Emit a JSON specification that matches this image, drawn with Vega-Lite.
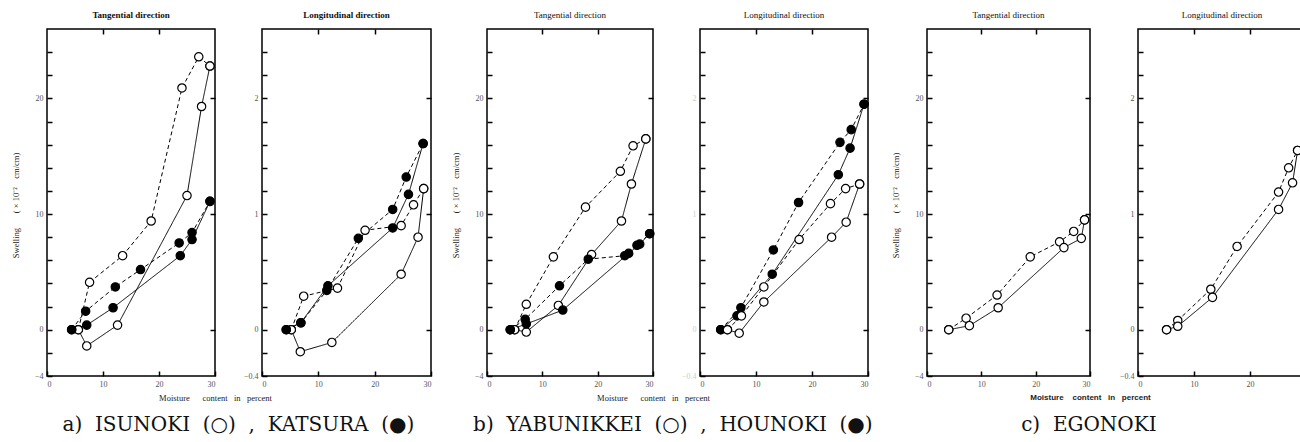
{
"$schema":"https://vega.github.io/schema/vega-lite/v6.json",
"background":"white",
"padding":{"left":10,"top":10,"right":0,"bottom":0},
"config":{
 "view":{"stroke":"black","strokeWidth":1.5},
 "axis":{"domain":false,"grid":false,"tickColor":"black","tickWidth":1.5,"tickSize":-5,"labelPadding":9,"labelFont":"Liberation Serif","labelFontSize":8,"labelColor":"#555","titleFont":"Liberation Serif","titleFontSize":8.5,"titleFontWeight":"normal","titleColor":"#222"},
 "title":{"font":"Liberation Serif","fontSize":9,"fontWeight":"normal","color":"#111","offset":8}
},
"data":{"values":[
{"p":"aT","sp":"o","c":"s","i":0,"mc":5.6,"sw":0},{"p":"aT","sp":"o","c":"s","i":1,"mc":7.1,"sw":-1.4},{"p":"aT","sp":"o","c":"s","i":2,"mc":12.6,"sw":0.4},{"p":"aT","sp":"o","c":"s","i":3,"mc":25.0,"sw":11.6},{"p":"aT","sp":"o","c":"s","i":4,"mc":27.6,"sw":19.3},{"p":"aT","sp":"o","c":"s","i":5,"mc":29.1,"sw":22.8},
{"p":"aT","sp":"o","c":"d","i":0,"mc":5.6,"sw":0},{"p":"aT","sp":"o","c":"d","i":1,"mc":7.6,"sw":4.1},{"p":"aT","sp":"o","c":"d","i":2,"mc":13.5,"sw":6.4},{"p":"aT","sp":"o","c":"d","i":3,"mc":18.6,"sw":9.4},{"p":"aT","sp":"o","c":"d","i":4,"mc":24.1,"sw":20.9},{"p":"aT","sp":"o","c":"d","i":5,"mc":27.1,"sw":23.6},{"p":"aT","sp":"o","c":"d","i":6,"mc":29.1,"sw":22.8},
{"p":"aT","sp":"f","c":"s","i":0,"mc":4.4,"sw":0},{"p":"aT","sp":"f","c":"s","i":1,"mc":7.1,"sw":0.4},{"p":"aT","sp":"f","c":"s","i":2,"mc":11.8,"sw":1.9},{"p":"aT","sp":"f","c":"s","i":3,"mc":23.8,"sw":6.4},{"p":"aT","sp":"f","c":"s","i":4,"mc":25.9,"sw":7.8},{"p":"aT","sp":"f","c":"s","i":5,"mc":29.1,"sw":11.1},
{"p":"aT","sp":"f","c":"d","i":0,"mc":4.4,"sw":0},{"p":"aT","sp":"f","c":"d","i":1,"mc":6.9,"sw":1.6},{"p":"aT","sp":"f","c":"d","i":2,"mc":12.2,"sw":3.7},{"p":"aT","sp":"f","c":"d","i":3,"mc":16.7,"sw":5.2},{"p":"aT","sp":"f","c":"d","i":4,"mc":23.6,"sw":7.5},{"p":"aT","sp":"f","c":"d","i":5,"mc":25.9,"sw":8.4},{"p":"aT","sp":"f","c":"d","i":6,"mc":29.1,"sw":11.1},

{"p":"aL","sp":"o","c":"s","i":0,"mc":5.2,"sw":0},{"p":"aL","sp":"o","c":"s","i":1,"mc":6.8,"sw":-0.19},{"p":"aL","sp":"o","c":"s","i":2,"mc":12.4,"sw":-0.11},{"p":"aL","sp":"o","c":"s","i":3,"mc":24.7,"sw":0.48},{"p":"aL","sp":"o","c":"s","i":4,"mc":27.7,"sw":0.8},{"p":"aL","sp":"o","c":"s","i":5,"mc":28.7,"sw":1.22},
{"p":"aL","sp":"o","c":"d","i":0,"mc":5.2,"sw":0},{"p":"aL","sp":"o","c":"d","i":1,"mc":7.4,"sw":0.29},{"p":"aL","sp":"o","c":"d","i":2,"mc":13.4,"sw":0.36},{"p":"aL","sp":"o","c":"d","i":3,"mc":18.3,"sw":0.86},{"p":"aL","sp":"o","c":"d","i":4,"mc":24.7,"sw":0.9},{"p":"aL","sp":"o","c":"d","i":5,"mc":26.9,"sw":1.08},{"p":"aL","sp":"o","c":"d","i":6,"mc":28.7,"sw":1.22},
{"p":"aL","sp":"f","c":"s","i":0,"mc":4.3,"sw":0},{"p":"aL","sp":"f","c":"s","i":1,"mc":6.9,"sw":0.06},{"p":"aL","sp":"f","c":"s","i":2,"mc":11.7,"sw":0.38},{"p":"aL","sp":"f","c":"s","i":3,"mc":23.2,"sw":0.88},{"p":"aL","sp":"f","c":"s","i":4,"mc":26.0,"sw":1.17},{"p":"aL","sp":"f","c":"s","i":5,"mc":28.6,"sw":1.61},
{"p":"aL","sp":"f","c":"d","i":0,"mc":4.3,"sw":0},{"p":"aL","sp":"f","c":"d","i":1,"mc":6.9,"sw":0.06},{"p":"aL","sp":"f","c":"d","i":2,"mc":11.5,"sw":0.34},{"p":"aL","sp":"f","c":"d","i":3,"mc":17.1,"sw":0.79},{"p":"aL","sp":"f","c":"d","i":4,"mc":23.2,"sw":1.04},{"p":"aL","sp":"f","c":"d","i":5,"mc":25.6,"sw":1.32},{"p":"aL","sp":"f","c":"d","i":6,"mc":28.6,"sw":1.61},

{"p":"bT","sp":"o","c":"d","i":0,"mc":5.0,"sw":0},{"p":"bT","sp":"o","c":"d","i":1,"mc":7.1,"sw":2.2},{"p":"bT","sp":"o","c":"d","i":2,"mc":12.0,"sw":6.3},{"p":"bT","sp":"o","c":"d","i":3,"mc":17.8,"sw":10.6},{"p":"bT","sp":"o","c":"d","i":4,"mc":24.1,"sw":13.7},{"p":"bT","sp":"o","c":"d","i":5,"mc":26.4,"sw":15.9},{"p":"bT","sp":"o","c":"d","i":6,"mc":28.7,"sw":16.5},
{"p":"bT","sp":"o","c":"s","i":0,"mc":5.0,"sw":0},{"p":"bT","sp":"o","c":"s","i":1,"mc":7.1,"sw":-0.2},{"p":"bT","sp":"o","c":"s","i":2,"mc":12.9,"sw":2.1},{"p":"bT","sp":"o","c":"s","i":3,"mc":18.9,"sw":6.5},{"p":"bT","sp":"o","c":"s","i":4,"mc":24.3,"sw":9.4},{"p":"bT","sp":"o","c":"s","i":5,"mc":26.1,"sw":12.6},{"p":"bT","sp":"o","c":"s","i":6,"mc":28.7,"sw":16.5},
{"p":"bT","sp":"f","c":"d","i":0,"mc":4.2,"sw":0},{"p":"bT","sp":"f","c":"d","i":1,"mc":6.9,"sw":0.9},{"p":"bT","sp":"f","c":"d","i":2,"mc":13.1,"sw":3.8},{"p":"bT","sp":"f","c":"d","i":3,"mc":18.3,"sw":6.1},{"p":"bT","sp":"f","c":"d","i":4,"mc":24.9,"sw":6.4},{"p":"bT","sp":"f","c":"d","i":5,"mc":27.1,"sw":7.3},{"p":"bT","sp":"f","c":"d","i":6,"mc":29.4,"sw":8.3},
{"p":"bT","sp":"f","c":"s","i":0,"mc":4.2,"sw":0},{"p":"bT","sp":"f","c":"s","i":1,"mc":7.1,"sw":0.5},{"p":"bT","sp":"f","c":"s","i":2,"mc":13.7,"sw":1.7},{"p":"bT","sp":"f","c":"s","i":3,"mc":25.6,"sw":6.6},{"p":"bT","sp":"f","c":"s","i":4,"mc":27.6,"sw":7.4},{"p":"bT","sp":"f","c":"s","i":5,"mc":29.4,"sw":8.3},

{"p":"bL","sp":"f","c":"d","i":0,"mc":3.7,"sw":0},{"p":"bL","sp":"f","c":"d","i":1,"mc":7.3,"sw":0.19},{"p":"bL","sp":"f","c":"d","i":2,"mc":13.1,"sw":0.69},{"p":"bL","sp":"f","c":"d","i":3,"mc":17.6,"sw":1.1},{"p":"bL","sp":"f","c":"d","i":4,"mc":25.0,"sw":1.62},{"p":"bL","sp":"f","c":"d","i":5,"mc":27.0,"sw":1.73},{"p":"bL","sp":"f","c":"d","i":6,"mc":29.3,"sw":1.95},
{"p":"bL","sp":"f","c":"s","i":0,"mc":3.7,"sw":0},{"p":"bL","sp":"f","c":"s","i":1,"mc":6.6,"sw":0.12},{"p":"bL","sp":"f","c":"s","i":2,"mc":12.9,"sw":0.48},{"p":"bL","sp":"f","c":"s","i":3,"mc":24.7,"sw":1.34},{"p":"bL","sp":"f","c":"s","i":4,"mc":26.8,"sw":1.57},{"p":"bL","sp":"f","c":"s","i":5,"mc":29.3,"sw":1.95},
{"p":"bL","sp":"o","c":"d","i":0,"mc":4.9,"sw":0},{"p":"bL","sp":"o","c":"d","i":1,"mc":7.4,"sw":0.12},{"p":"bL","sp":"o","c":"d","i":2,"mc":11.4,"sw":0.37},{"p":"bL","sp":"o","c":"d","i":3,"mc":17.7,"sw":0.78},{"p":"bL","sp":"o","c":"d","i":4,"mc":23.3,"sw":1.09},{"p":"bL","sp":"o","c":"d","i":5,"mc":26.0,"sw":1.22},{"p":"bL","sp":"o","c":"d","i":6,"mc":28.5,"sw":1.26},
{"p":"bL","sp":"o","c":"s","i":0,"mc":4.9,"sw":0},{"p":"bL","sp":"o","c":"s","i":1,"mc":7.0,"sw":-0.03},{"p":"bL","sp":"o","c":"s","i":2,"mc":11.4,"sw":0.24},{"p":"bL","sp":"o","c":"s","i":3,"mc":23.5,"sw":0.8},{"p":"bL","sp":"o","c":"s","i":4,"mc":26.1,"sw":0.93},{"p":"bL","sp":"o","c":"s","i":5,"mc":28.5,"sw":1.26},

{"p":"cT","sp":"o","c":"d","i":0,"mc":4.0,"sw":0},{"p":"cT","sp":"o","c":"d","i":1,"mc":7.2,"sw":1.0},{"p":"cT","sp":"o","c":"d","i":2,"mc":12.9,"sw":3.0},{"p":"cT","sp":"o","c":"d","i":3,"mc":19.0,"sw":6.3},{"p":"cT","sp":"o","c":"d","i":4,"mc":24.4,"sw":7.6},{"p":"cT","sp":"o","c":"d","i":5,"mc":27.0,"sw":8.5},{"p":"cT","sp":"o","c":"d","i":6,"mc":29.0,"sw":9.5},
{"p":"cT","sp":"o","c":"s","i":0,"mc":4.0,"sw":0},{"p":"cT","sp":"o","c":"s","i":1,"mc":7.8,"sw":0.35},{"p":"cT","sp":"o","c":"s","i":2,"mc":13.1,"sw":1.9},{"p":"cT","sp":"o","c":"s","i":3,"mc":25.2,"sw":7.1},{"p":"cT","sp":"o","c":"s","i":4,"mc":28.4,"sw":7.9},{"p":"cT","sp":"o","c":"s","i":5,"mc":29.0,"sw":9.5},

{"p":"cL","sp":"o","c":"d","i":0,"mc":5.1,"sw":0},{"p":"cL","sp":"o","c":"d","i":1,"mc":7.1,"sw":0.08},{"p":"cL","sp":"o","c":"d","i":2,"mc":13.0,"sw":0.35},{"p":"cL","sp":"o","c":"d","i":3,"mc":17.7,"sw":0.72},{"p":"cL","sp":"o","c":"d","i":4,"mc":25.1,"sw":1.19},{"p":"cL","sp":"o","c":"d","i":5,"mc":26.9,"sw":1.4},{"p":"cL","sp":"o","c":"d","i":6,"mc":28.5,"sw":1.55},
{"p":"cL","sp":"o","c":"s","i":0,"mc":5.1,"sw":0},{"p":"cL","sp":"o","c":"s","i":1,"mc":7.1,"sw":0.03},{"p":"cL","sp":"o","c":"s","i":2,"mc":13.3,"sw":0.28},{"p":"cL","sp":"o","c":"s","i":3,"mc":25.1,"sw":1.04},{"p":"cL","sp":"o","c":"s","i":4,"mc":27.6,"sw":1.27},{"p":"cL","sp":"o","c":"s","i":5,"mc":28.5,"sw":1.55}
]},
"spacing":17,
"resolve":{"scale":{"x":"independent","y":"independent"}},
"hconcat":[
 {"bounds":"flush","spacing":47,
  "title":{"text":"a)\u00a0 ISUNOKI\u00a0 (○)\u00a0 ,\u00a0 KATSURA\u00a0 (●)","orient":"bottom","anchor":"middle","dx":17,"font":"DejaVu Serif","fontSize":20,"fontWeight":"normal","color":"#111","offset":13},
  "resolve":{"scale":{"x":"independent","y":"independent"}},
  "hconcat":[
   {"width":168,"height":347,"title":{"text":"Tangential direction","fontWeight":"bold"},
    "transform":[{"filter":"datum.p=='aT'"}],
    "layer":[
     {"mark":{"type":"line","color":"black","strokeWidth":1},
      "encoding":{
       "x":{"field":"mc","type":"quantitative","scale":{"domain":[0,30],"nice":false,"zero":false},"axis":{"orient":"bottom","values":[0,10,20,30],"title":"Moisture\u00a0\u00a0\u00a0\u00a0\u00a0 content\u00a0\u00a0 in\u00a0\u00a0 percent","titleX":168,"titleY":21,"titleAlign":"center","titleBaseline":"middle"}},
       "y":{"field":"sw","type":"quantitative","scale":{"domain":[-4,26],"nice":false,"zero":false},"axis":{"orient":"left","values":[-4,-2,0,2,4,6,8,10,12,14,16,18,20,22,24],"labelExpr":"datum.value==0||datum.value==10||datum.value==20||datum.value==-4 ? datum.label : ''","title":"Swelling\u00a0\u00a0\u00a0\u00a0\u00a0\u00a0 ( ×\u00a010⁻²\u00a0\u00a0\u00a0 cm/cm)","titleX":-32,"titleY":176,"titleAngle":-90,"titleAlign":"center","titleBaseline":"middle"}},
       "detail":[{"field":"sp"},{"field":"c"}],
       "strokeDash":{"field":"c","type":"nominal","scale":{"domain":["s","d"],"range":[[1,0],[4,3]]},"legend":null},
       "order":{"field":"i","type":"quantitative"}}},
     {"mark":{"type":"circle","size":70,"stroke":"black","strokeWidth":1.2,"opacity":1},
      "encoding":{
       "x":{"field":"mc","type":"quantitative","scale":{"domain":[0,30],"nice":false,"zero":false},"axis":{"orient":"top","values":[10,20],"labels":false,"title":null}},
       "y":{"field":"sw","type":"quantitative","scale":{"domain":[-4,26],"nice":false,"zero":false},"axis":{"orient":"right","values":[0,10,20],"labels":false,"title":null}},
       "fill":{"field":"sp","type":"nominal","scale":{"domain":["o","f"],"range":["white","black"]},"legend":null}}}
    ],
    "resolve":{"axis":{"x":"independent","y":"independent"}}},
   {"width":169,"height":347,"title":{"text":"Longitudinal direction","fontWeight":"bold"},
    "transform":[{"filter":"datum.p=='aL'"}],
    "layer":[
     {"mark":{"type":"line","color":"black","strokeWidth":1},
      "encoding":{
       "x":{"field":"mc","type":"quantitative","scale":{"domain":[0,30],"nice":false,"zero":false},"axis":{"orient":"bottom","values":[0,10,20,30],"title":null}},
       "y":{"field":"sw","type":"quantitative","scale":{"domain":[-0.4,2.6],"nice":false,"zero":false},"axis":{"orient":"left","values":[-0.4,-0.2,0,0.2,0.4,0.6,0.8,1,1.2,1.4,1.6,1.8,2,2.2,2.4],"labelExpr":"datum.value==0||datum.value==1||datum.value==2||datum.value==-0.4 ? format(datum.value,'.1~f') : ''","title":null}},
       "detail":[{"field":"sp"},{"field":"c"}],
       "strokeDash":{"field":"c","type":"nominal","scale":{"domain":["s","d"],"range":[[1,0],[4,3]]},"legend":null},
       "order":{"field":"i","type":"quantitative"}}},
     {"mark":{"type":"circle","size":70,"stroke":"black","strokeWidth":1.2,"opacity":1},
      "encoding":{
       "x":{"field":"mc","type":"quantitative","scale":{"domain":[0,30],"nice":false,"zero":false},"axis":{"orient":"top","values":[10,20],"labels":false,"title":null}},
       "y":{"field":"sw","type":"quantitative","scale":{"domain":[-0.4,2.6],"nice":false,"zero":false},"axis":{"orient":"right","values":[0,1,2],"labels":false,"title":null}},
       "fill":{"field":"sp","type":"nominal","scale":{"domain":["o","f"],"range":["white","black"]},"legend":null}}}
    ],
    "resolve":{"axis":{"x":"independent","y":"independent"}}}
  ]},
 {"bounds":"flush","spacing":47,
  "title":{"text":"b)\u00a0 YABUNIKKEI\u00a0 (○)\u00a0 ,\u00a0 HOUNOKI\u00a0 (●)","orient":"bottom","anchor":"middle","dx":12,"font":"DejaVu Serif","fontSize":20,"fontWeight":"normal","color":"#111","offset":13},
  "resolve":{"scale":{"x":"independent","y":"independent"}},
  "hconcat":[
   {"width":166,"height":347,"title":{"text":"Tangential direction"},
    "transform":[{"filter":"datum.p=='bT'"}],
    "layer":[
     {"mark":{"type":"line","color":"black","strokeWidth":1},
      "encoding":{
       "x":{"field":"mc","type":"quantitative","scale":{"domain":[0,30],"nice":false,"zero":false},"axis":{"orient":"bottom","values":[0,10,20,30],"title":"Moisture\u00a0\u00a0\u00a0\u00a0\u00a0 content\u00a0\u00a0 in\u00a0\u00a0 percent","titleX":166,"titleY":21,"titleAlign":"center","titleBaseline":"middle"}},
       "y":{"field":"sw","type":"quantitative","scale":{"domain":[-4,26],"nice":false,"zero":false},"axis":{"orient":"left","values":[-4,-2,0,2,4,6,8,10,12,14,16,18,20,22,24],"labelExpr":"datum.value==0||datum.value==10||datum.value==20||datum.value==-4 ? datum.label : ''","title":"Swelling\u00a0\u00a0\u00a0\u00a0\u00a0\u00a0 ( ×\u00a010⁻²\u00a0\u00a0\u00a0 cm/cm)","titleX":-32,"titleY":176,"titleAngle":-90,"titleAlign":"center","titleBaseline":"middle"}},
       "detail":[{"field":"sp"},{"field":"c"}],
       "strokeDash":{"field":"c","type":"nominal","scale":{"domain":["s","d"],"range":[[1,0],[4,3]]},"legend":null},
       "order":{"field":"i","type":"quantitative"}}},
     {"mark":{"type":"circle","size":70,"stroke":"black","strokeWidth":1.2,"opacity":1},
      "encoding":{
       "x":{"field":"mc","type":"quantitative","scale":{"domain":[0,30],"nice":false,"zero":false},"axis":{"orient":"top","values":[10,20],"labels":false,"title":null}},
       "y":{"field":"sw","type":"quantitative","scale":{"domain":[-4,26],"nice":false,"zero":false},"axis":{"orient":"right","values":[0,10,20],"labels":false,"title":null}},
       "fill":{"field":"sp","type":"nominal","scale":{"domain":["o","f"],"range":["white","black"]},"legend":null}}}
    ],
    "resolve":{"axis":{"x":"independent","y":"independent"}}},
   {"width":168,"height":347,"title":{"text":"Longitudinal direction"},
    "transform":[{"filter":"datum.p=='bL'"}],
    "layer":[
     {"mark":{"type":"line","color":"black","strokeWidth":1},
      "encoding":{
       "x":{"field":"mc","type":"quantitative","scale":{"domain":[0,30],"nice":false,"zero":false},"axis":{"orient":"bottom","values":[0,10,20,30],"title":null}},
       "y":{"field":"sw","type":"quantitative","scale":{"domain":[-0.4,2.6],"nice":false,"zero":false},"axis":{"orient":"left","values":[-0.4,-0.2,0,0.2,0.4,0.6,0.8,1,1.2,1.4,1.6,1.8,2,2.2,2.4],"labelExpr":"datum.value==0||datum.value==1||datum.value==2||datum.value==-0.4 ? format(datum.value,'.1~f') : ''","labelColor":"#ccc","title":null}},
       "detail":[{"field":"sp"},{"field":"c"}],
       "strokeDash":{"field":"c","type":"nominal","scale":{"domain":["s","d"],"range":[[1,0],[4,3]]},"legend":null},
       "order":{"field":"i","type":"quantitative"}}},
     {"mark":{"type":"circle","size":70,"stroke":"black","strokeWidth":1.2,"opacity":1},
      "encoding":{
       "x":{"field":"mc","type":"quantitative","scale":{"domain":[0,30],"nice":false,"zero":false},"axis":{"orient":"top","values":[10,20],"labels":false,"title":null}},
       "y":{"field":"sw","type":"quantitative","scale":{"domain":[-0.4,2.6],"nice":false,"zero":false},"axis":{"orient":"right","values":[0,1,2],"labels":false,"title":null}},
       "fill":{"field":"sp","type":"nominal","scale":{"domain":["o","f"],"range":["white","black"]},"legend":null}}}
    ],
    "resolve":{"axis":{"x":"independent","y":"independent"}}}
  ]},
 {"bounds":"flush","spacing":48,
  "title":{"text":"c)\u00a0 EGONOKI","orient":"bottom","anchor":"middle","dx":-10,"font":"DejaVu Serif","fontSize":20,"fontWeight":"normal","color":"#111","offset":13},
  "resolve":{"scale":{"x":"independent","y":"independent"}},
  "hconcat":[
   {"width":163,"height":347,"title":{"text":"Tangential direction"},
    "transform":[{"filter":"datum.p=='cT'"}],
    "layer":[
     {"mark":{"type":"line","color":"black","strokeWidth":1},
      "encoding":{
       "x":{"field":"mc","type":"quantitative","scale":{"domain":[0,30],"nice":false,"zero":false},"axis":{"orient":"bottom","values":[0,10,20,30],"title":"Moisture\u00a0\u00a0\u00a0 content\u00a0\u00a0 in\u00a0\u00a0 percent","titleX":163,"titleY":21,"titleAlign":"center","titleBaseline":"middle","titleFontWeight":"bold","titleFont":"Liberation Sans","titleFontSize":8}},
       "y":{"field":"sw","type":"quantitative","scale":{"domain":[-4,26],"nice":false,"zero":false},"axis":{"orient":"left","values":[-4,-2,0,2,4,6,8,10,12,14,16,18,20,22,24],"labelExpr":"datum.value==0||datum.value==10||datum.value==20||datum.value==-4 ? datum.label : ''","title":"Swelling\u00a0\u00a0\u00a0\u00a0\u00a0\u00a0 ( ×\u00a010⁻²\u00a0\u00a0\u00a0 cm/cm)","titleX":-32,"titleY":176,"titleAngle":-90,"titleAlign":"center","titleBaseline":"middle"}},
       "detail":[{"field":"sp"},{"field":"c"}],
       "strokeDash":{"field":"c","type":"nominal","scale":{"domain":["s","d"],"range":[[1,0],[4,3]]},"legend":null},
       "order":{"field":"i","type":"quantitative"}}},
     {"mark":{"type":"circle","size":70,"stroke":"black","strokeWidth":1.2,"opacity":1},
      "encoding":{
       "x":{"field":"mc","type":"quantitative","scale":{"domain":[0,30],"nice":false,"zero":false},"axis":{"orient":"top","values":[10,20],"labels":false,"title":null}},
       "y":{"field":"sw","type":"quantitative","scale":{"domain":[-4,26],"nice":false,"zero":false},"axis":{"orient":"right","values":[0,10,20],"labels":false,"title":null}},
       "fill":{"field":"sp","type":"nominal","scale":{"domain":["o","f"],"range":["white","black"]},"legend":null}}}
    ],
    "resolve":{"axis":{"x":"independent","y":"independent"}}},
   {"width":168,"height":347,"title":{"text":"Longitudinal direction"},
    "transform":[{"filter":"datum.p=='cL'"}],
    "layer":[
     {"mark":{"type":"line","color":"black","strokeWidth":1},
      "encoding":{
       "x":{"field":"mc","type":"quantitative","scale":{"domain":[0,30],"nice":false,"zero":false},"axis":{"orient":"bottom","values":[0,10,20],"title":null}},
       "y":{"field":"sw","type":"quantitative","scale":{"domain":[-0.4,2.6],"nice":false,"zero":false},"axis":{"orient":"left","values":[-0.4,-0.2,0,0.2,0.4,0.6,0.8,1,1.2,1.4,1.6,1.8,2,2.2,2.4],"labelExpr":"datum.value==0||datum.value==1||datum.value==2||datum.value==-0.4 ? format(datum.value,'.1~f') : ''","title":null}},
       "detail":[{"field":"sp"},{"field":"c"}],
       "strokeDash":{"field":"c","type":"nominal","scale":{"domain":["s","d"],"range":[[1,0],[4,3]]},"legend":null},
       "order":{"field":"i","type":"quantitative"}}},
     {"mark":{"type":"circle","size":70,"stroke":"black","strokeWidth":1.2,"opacity":1},
      "encoding":{
       "x":{"field":"mc","type":"quantitative","scale":{"domain":[0,30],"nice":false,"zero":false},"axis":{"orient":"top","values":[10,20],"labels":false,"title":null}},
       "y":{"field":"sw","type":"quantitative","scale":{"domain":[-0.4,2.6],"nice":false,"zero":false},"axis":{"orient":"right","values":[0,1,2],"labels":false,"title":null}},
       "fill":{"field":"sp","type":"nominal","scale":{"domain":["o","f"],"range":["white","black"]},"legend":null}}}
    ],
    "resolve":{"axis":{"x":"independent","y":"independent"}}}
  ]}
]
}
